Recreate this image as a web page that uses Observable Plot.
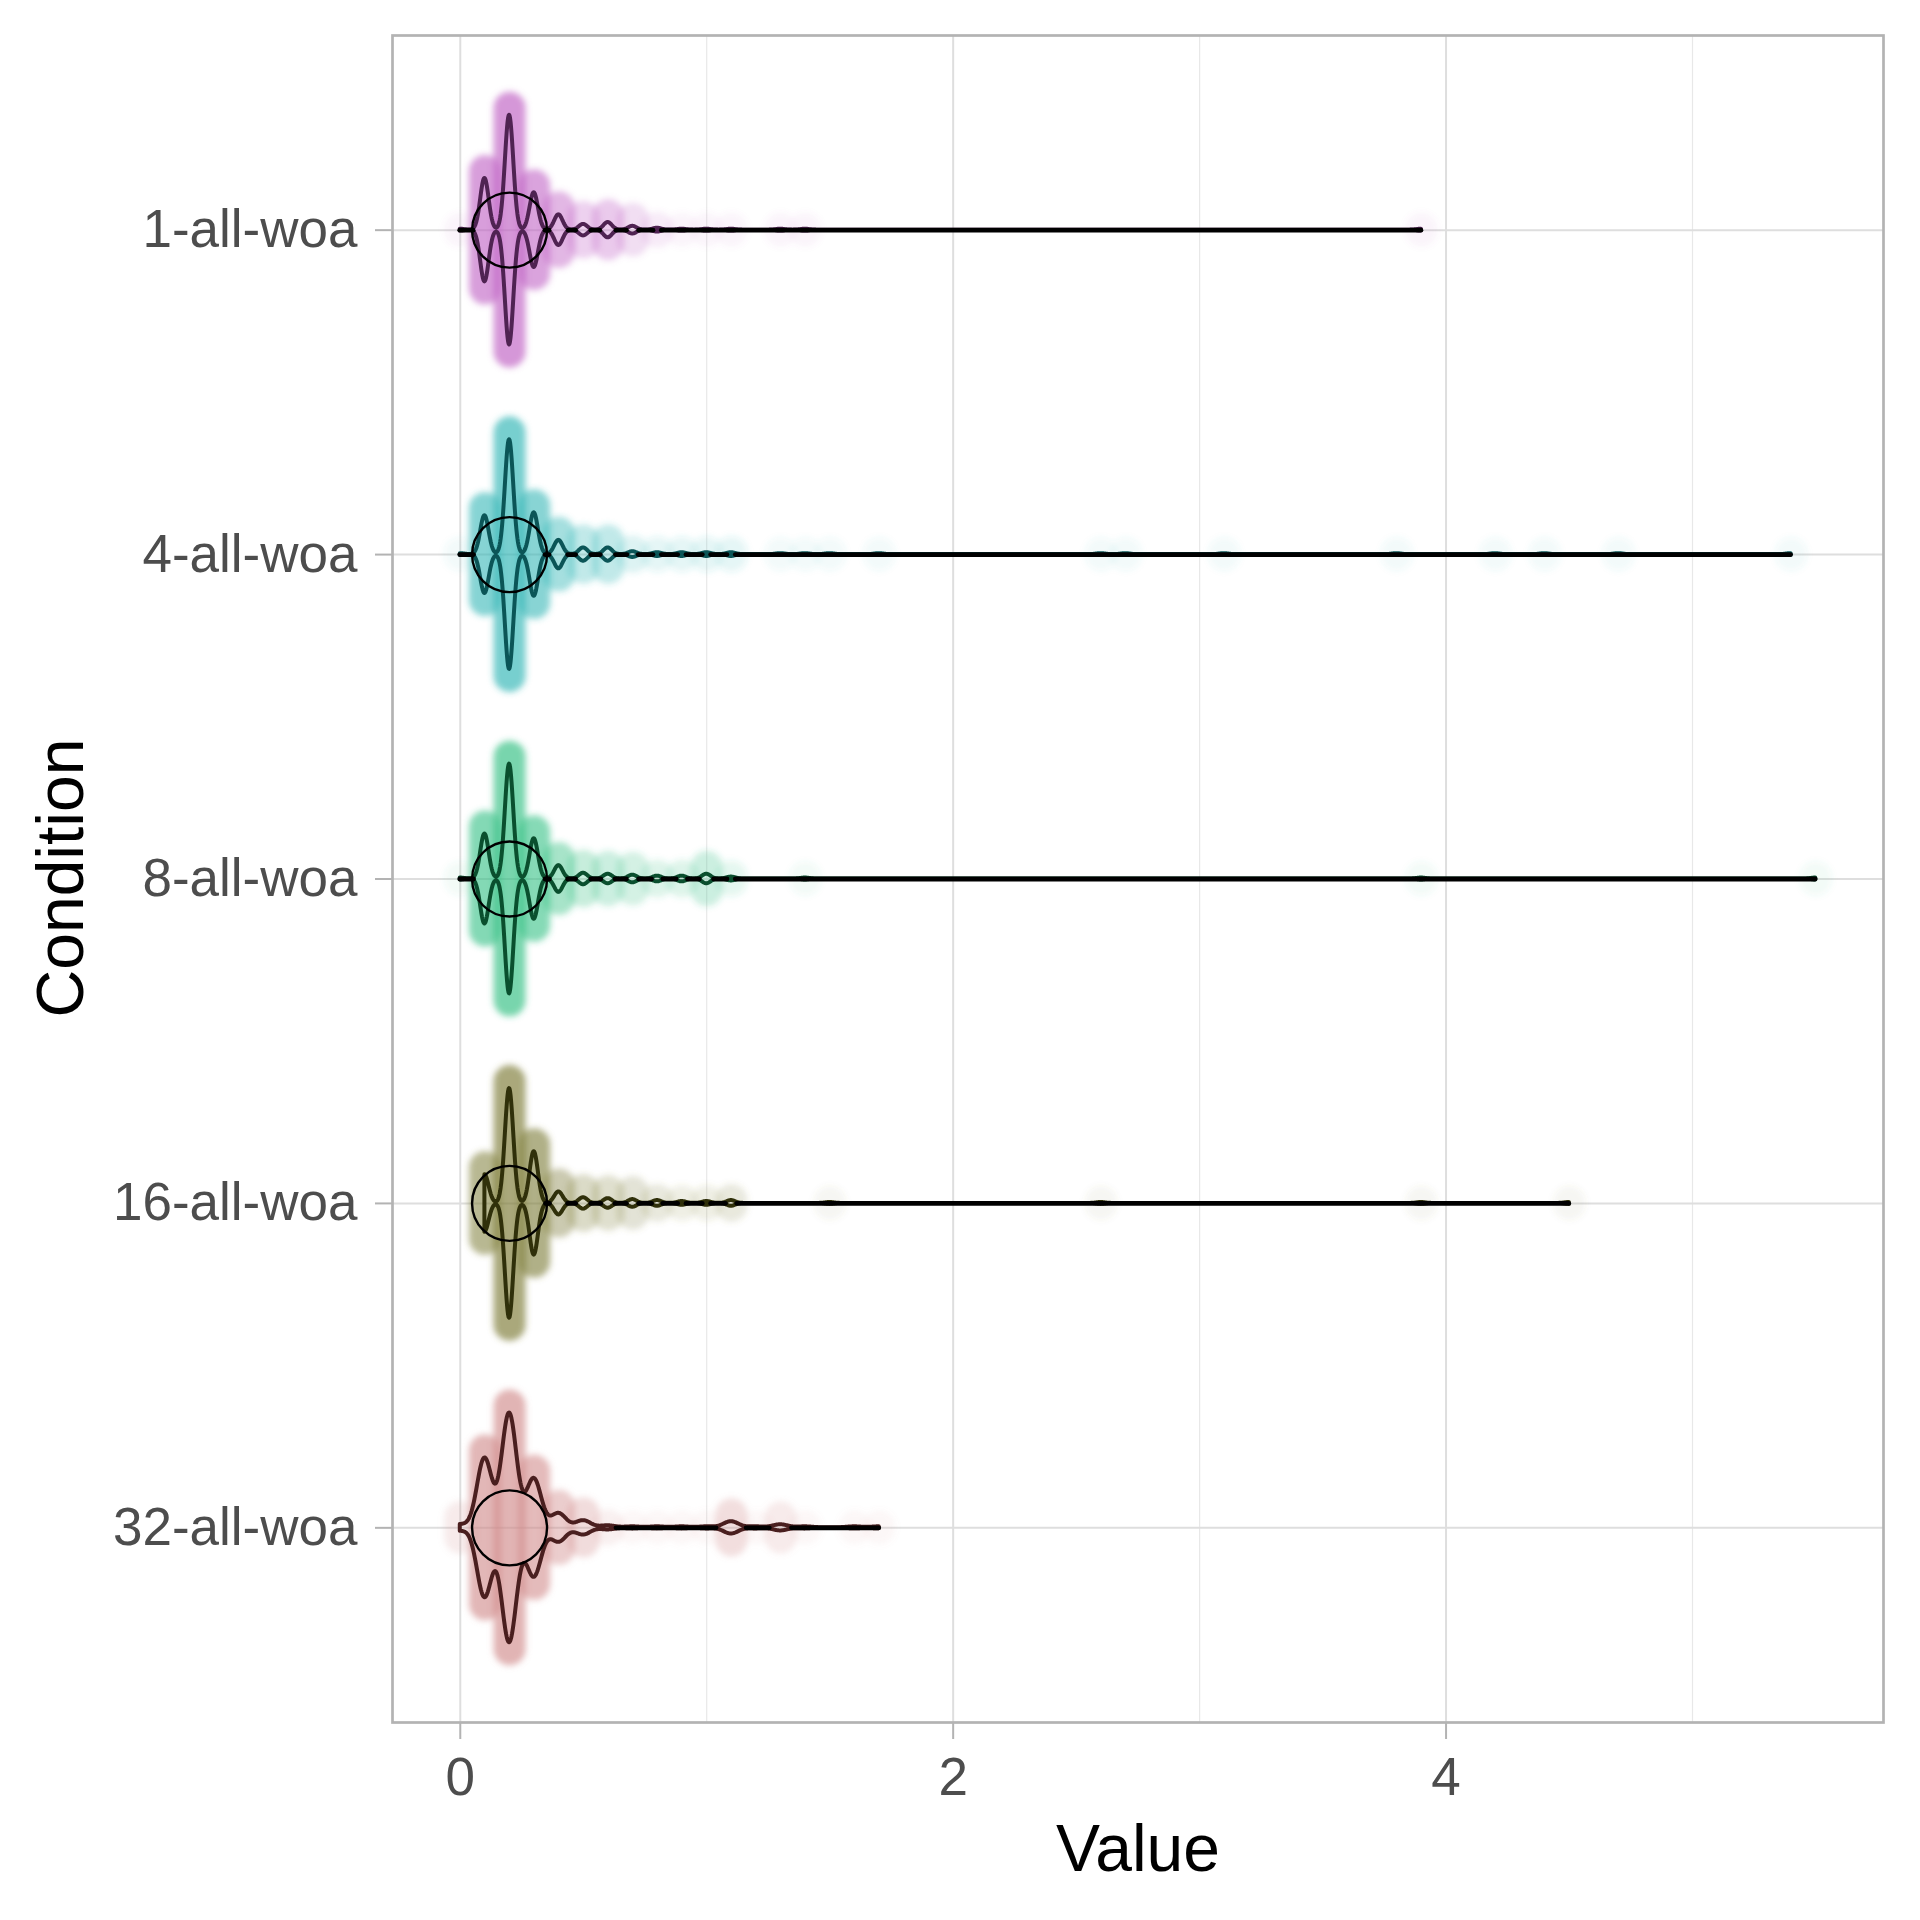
<!DOCTYPE html>
<html>
<head>
<meta charset="utf-8">
<script src="https://cdn.jsdelivr.net/npm/d3@7"></script>
<script src="https://cdn.jsdelivr.net/npm/@observablehq/plot@0.6"></script>
<style>
  body { margin: 0; background: #fff; }
  #wrap { position: relative; width: 1920px; height: 1920px; font-family: "Liberation Sans", Arial, Helvetica, sans-serif; }
  #ylab { position: absolute; left: 60px; top: 878px; transform: translate(-50%, -50%) rotate(-90deg); font-size: 66px; color: #000; white-space: nowrap; }
  svg { font-family: "Liberation Sans", Arial, Helvetica, sans-serif; }
  g[aria-label="x-axis tick"], g[aria-label="y-axis tick"] { stroke: #b3b3b3; stroke-width: 2px; }
  g[aria-label="x-axis"] .tick line, g[aria-label="y-axis"] .tick line { stroke: #b3b3b3; stroke-width: 2px; }
  g[aria-label*="axis"] text { font-size: 53px; fill: #4d4d4d; }
</style>
</head>
<body>
<div id="wrap"><div id="chart"></div><div id="ylab">Condition</div></div>
<script>
// ---- data ----
const conditions = ["1-all-woa", "4-all-woa", "8-all-woa", "16-all-woa", "32-all-woa"];

const values_1 = [0.0, 0.1, 0.2, 0.3, 0.4, 0.5, 0.6, 0.7, 0.8, 0.9, 1.0, 1.1, 1.3, 1.4, 3.9];
const counts_1 = [1, 54, 120, 39, 16, 6, 8, 4, 2, 1, 1, 1, 1, 1, 1];

const values_4 = [0.0, 0.1, 0.2, 0.3, 0.4, 0.5, 0.6, 0.7, 0.8, 0.9, 1.0, 1.1, 1.3, 1.4, 1.5, 1.7, 2.6, 2.7, 3.1, 3.8, 4.2, 4.4, 4.7, 5.4];
const counts_4 = [1, 41, 121, 44, 15, 7, 7, 3, 2, 2, 2, 2, 1, 1, 1, 1, 1, 1, 1, 1, 1, 1, 1, 1];

const values_8 = [0.0, 0.1, 0.2, 0.3, 0.4, 0.5, 0.6, 0.7, 0.8, 0.9, 1.0, 1.1, 1.4, 3.9, 5.5];
const counts_8 = [1, 47, 120, 42, 14, 6, 5, 4, 3, 3, 5, 2, 1, 1, 1];

const values_16 = [0.1, 0.2, 0.3, 0.4, 0.5, 0.6, 0.7, 0.8, 0.9, 1.0, 1.1, 1.5, 2.6, 3.9, 4.5];
const counts_16 = [30, 120, 54, 12, 6, 5, 4, 3, 2, 2, 3, 1, 1, 1, 1];

const values_32 = [0.0, 0.1, 0.2, 0.3, 0.4, 0.5, 0.6, 0.7, 0.8, 0.9, 1.0, 1.1, 1.2, 1.3, 1.4, 1.6, 1.7];
const counts_32 = [3, 68, 112, 48, 14, 7, 2, 1, 1, 1, 1, 6, 1, 3, 1, 1, 1];

const medians = [0.2, 0.2, 0.2, 0.2, 0.2];
const xTicks = [0, 2, 4];
const xMinorTicks = [1, 3, 5];

// styling
const bandwidths = [0.017, 0.017, 0.017, 0.017, 0.030];
const pointColors = ["#c061c5", "#35b7b7", "#35c084", "#7f7e3a", "#d08a8a"];
const outlineColors = ["#4f2352", "#0b5557", "#0a4f2e", "#30300a", "#4a1f1f"];

const valuesList = [values_1, values_4, values_8, values_16, values_32];
const countsList = [counts_1, counts_4, counts_8, counts_16, counts_32];

// ---- layout ----
const W = 1920, H = 1920;
const mL = 392, mR = 37, mT = 35, mB = 198;
const nCat = conditions.length;
const yDomain = [0.4, nCat + 0.6];
const pxPerUnitY = (H - mT - mB) / (yDomain[1] - yDomain[0]);
const maxHalfWidth = 0.354;     // violin half width in category units
const pointR = 16;              // point radius in px
const extraPx = 7;              // sina spread beyond the outline
const pointAlpha = 0.072;

const allVals = valuesList.flat();
const vMin = d3.min(allVals), vMax = d3.max(allVals);
const pad = (vMax - vMin) * 0.05;
const xDomain = [vMin - pad, vMax + pad];

const groups = conditions.map((name, i) => {
  const values = valuesList[i], counts = countsList[i], h = bandwidths[i];
  const pos = nCat - i;
  const kde = x => d3.sum(values, (v, j) => counts[j] * Math.exp(-((x - v) ** 2) / (2 * h * h)));
  const lo = d3.min(values), hi = d3.max(values);
  const n = Math.max(2, Math.ceil((hi - lo) / 0.002));
  const grid = d3.range(n + 1).map(k => lo + (hi - lo) * k / n);
  values.forEach(v => grid.push(v));
  grid.sort((a, b) => a - b);
  const dens = grid.map(kde);
  const dmax = d3.max(dens);
  const violin = grid.map((x, k) => ({x, w: dens[k] / dmax * maxHalfWidth}));
  const bands = values.map((v, j) => {
    const w = kde(v) / dmax * maxHalfWidth;
    const wpx = w * pxPerUnitY;
    const spread = wpx > 3 ? w + extraPx / pxPerUnitY : w;
    const coverage = counts[j] * (2 * pointR) / (2 * wpx + 2 * pointR);
    return {v, y1: pos - spread, y2: pos + spread, op: 1 - Math.pow(1 - pointAlpha, coverage)};
  });
  // thin parts of the violin -> drawn as the black line
  const segs = [];
  let start = null;
  violin.forEach((d, k) => {
    const thin = d.w * pxPerUnitY < 1.2;
    if (thin && start === null) start = d.x;
    if ((!thin || k === violin.length - 1) && start !== null) {
      segs.push({x1: start, x2: d.x, y: pos});
      start = null;
    }
  });
  return {name, pos, violin, bands, segs, med: medians[i], color: pointColors[i], outline: outlineColors[i]};
});

const marks = [
  Plot.ruleX(xMinorTicks, {stroke: "#e8e8e8", strokeWidth: 1.2}),
  Plot.ruleX(xTicks, {stroke: "#dedede", strokeWidth: 2}),
  Plot.ruleY(groups.map(g => g.pos), {stroke: "#dedede", strokeWidth: 2})
];
groups.forEach(g => {
  marks.push(Plot.ruleX(g.bands, {
    x: "v", y1: "y1", y2: "y2", stroke: g.color, strokeOpacity: "op",
    strokeWidth: 2 * pointR, strokeLinecap: "round", ariaLabel: "bands"
  }));
});
groups.forEach(g => {
  marks.push(Plot.areaY(g.violin, {
    x: "x", y1: d => g.pos - d.w, y2: d => g.pos + d.w,
    fill: "none", stroke: g.outline, strokeWidth: 4, strokeLinejoin: "round"
  }));
  marks.push(Plot.ruleY(g.segs, {x1: "x1", x2: "x2", y: "y", stroke: "#000", strokeWidth: 4.8, strokeLinecap: "round"}));
});
marks.push(Plot.dot(groups, {x: "med", y: "pos", r: 37.5, stroke: "#000", strokeWidth: 2.4, fill: "none"}));
marks.push(Plot.frame({stroke: "#b3b3b3", strokeWidth: 2.7}));
marks.push(Plot.text(["Value"], {text: d => d, frameAnchor: "bottom", dy: 148, fontSize: 66, fill: "#000"}));

const chart = Plot.plot({
  width: W, height: H,
  marginLeft: mL, marginRight: mR, marginTop: mT, marginBottom: mB,
  style: {fontFamily: '"Liberation Sans", Arial, Helvetica, sans-serif', fontSize: "53px", color: "#4d4d4d", background: "white"},
  x: {domain: xDomain, ticks: xTicks, tickFormat: d3.format("d"), tickSize: 17, tickPadding: 18, label: null},
  y: {domain: yDomain, ticks: groups.map(g => g.pos), tickFormat: p => conditions[nCat - p], tickSize: 17, tickPadding: 18, label: null},
  marks
});

// soft edges for the accumulated points
const svgNS = "http://www.w3.org/2000/svg";
const svgRoot = chart.tagName.toLowerCase() === "svg" ? chart : chart.querySelector("svg");
const defs = document.createElementNS(svgNS, "defs");
const filt = document.createElementNS(svgNS, "filter");
filt.setAttribute("id", "soften");
filt.setAttribute("x", "-20%"); filt.setAttribute("y", "-20%");
filt.setAttribute("width", "140%"); filt.setAttribute("height", "140%");
const blur = document.createElementNS(svgNS, "feGaussianBlur");
blur.setAttribute("stdDeviation", "3");
filt.appendChild(blur); defs.appendChild(filt);
svgRoot.insertBefore(defs, svgRoot.firstChild);
let bandGroups = svgRoot.querySelectorAll('g[aria-label="bands"]');
if (bandGroups.length === 0) bandGroups = Array.from(svgRoot.querySelectorAll("g")).filter(el => el.getAttribute("stroke-width") === String(2 * pointR));
bandGroups.forEach(el => el.setAttribute("filter", "url(#soften)"));
document.getElementById("chart").appendChild(chart);
</script>
</body>
</html>
